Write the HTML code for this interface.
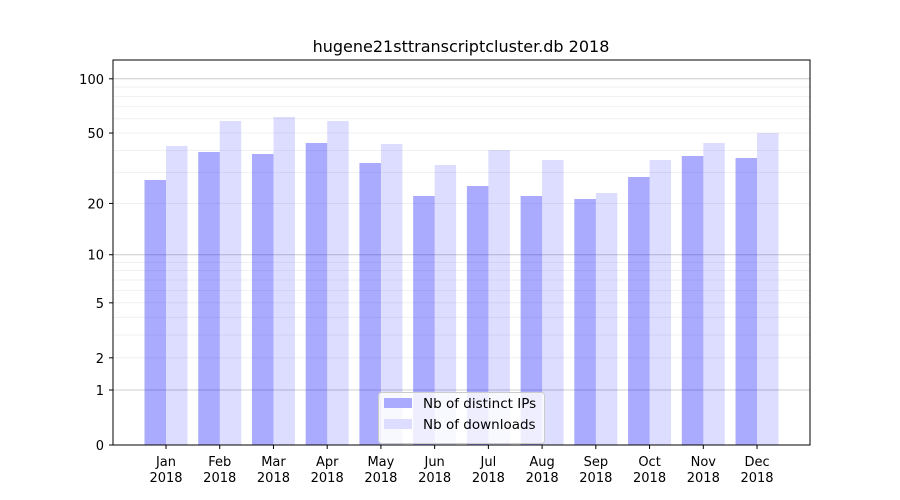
<!DOCTYPE html>
<html><head><meta charset="utf-8"><style>body{margin:0;background:#fff}svg{display:block;font-family:"DejaVu Sans","Liberation Sans",sans-serif}</style></head>
<body>
<svg id="s" width="900" height="500" xmlns="http://www.w3.org/2000/svg">
<rect width="900" height="500" fill="#fff"/>
<g id="grid"></g>
<g id="bars"></g>
<rect x="113" y="60" width="697" height="385" fill="none" stroke="#000" stroke-width="1"/>
<g id="ticks" font-size="13" fill="#000"></g>
<text x="461" y="52" text-anchor="middle" font-size="16">hugene21sttranscriptcluster.db 2018</text>
<g>
<rect x="378.5" y="392.5" width="166" height="51" rx="3" fill="#fff" fill-opacity="0.8" stroke="#ccc"/>
<rect x="384" y="398" width="28" height="10" fill="#aaaaff"/>
<rect x="384" y="419" width="28" height="10" fill="#ddddff"/>
<text x="423" y="408" font-size="13.5">Nb of distinct IPs</text>
<text x="423" y="429" font-size="13.5">Nb of downloads</text>
</g>
</svg>
<script>
var ns="http://www.w3.org/2000/svg";
function el(p,t,a,txt){var e=document.createElementNS(ns,t);for(var k in a)e.setAttribute(k,a[k]);if(txt!==undefined)e.textContent=txt;document.getElementById(p).appendChild(e);return e;}
function Y(v){return 445-182.7*Math.log10(1+v);}
var minor=[2,3,4,5,6,7,8,9,20,30,40,50,60,70,80,90];
minor.forEach(function(v){var y=Y(v);el("grid","line",{x1:113,x2:810,y1:y,y2:y,stroke:"#eeeeee","stroke-width":0.8});});
[1,10,100].forEach(function(v){var y=Y(v);el("grid","line",{x1:113,x2:810,y1:y,y2:y,stroke:"#cccccc","stroke-width":1});});
var dark=[180,152,154,143,163,196,186,196,199,177,156,158];
var light=[146,121,117,121,144,165,150,160,193,160,143,133];
var m=["Jan","Feb","Mar","Apr","May","Jun","Jul","Aug","Sep","Oct","Nov","Dec"];
for(var i=0;i<12;i++){var c=166+i*53.73;
el("bars","rect",{x:c-21.5,y:dark[i],width:21.5,height:445-dark[i],fill:"#0000ff","fill-opacity":0.333});
el("bars","rect",{x:c,y:light[i],width:21.5,height:445-light[i],fill:"#0000ff","fill-opacity":0.135});
el("ticks","line",{x1:c,x2:c,y1:445,y2:449,stroke:"#000"});
el("ticks","text",{x:c,y:466,"text-anchor":"middle"},m[i]);
el("ticks","text",{x:c,y:482,"text-anchor":"middle"},"2018");}
[0,1,2,5,10,20,50,100].forEach(function(v){var y=Y(v);
el("ticks","line",{x1:109,x2:113,y1:y,y2:y,stroke:"#000"});
el("ticks","text",{x:104,y:y+5,"text-anchor":"end"},String(v));});
</script>
</body></html>
